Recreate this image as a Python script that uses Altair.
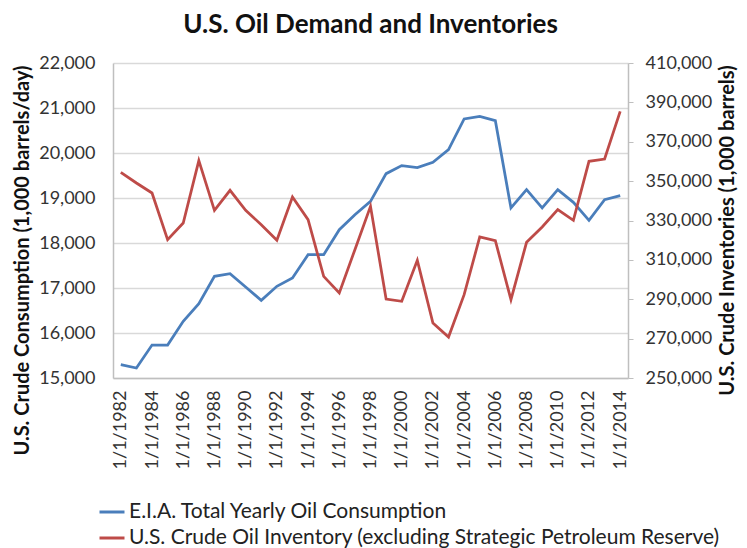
import altair as alt
import pandas as pd

years = list(range(1982, 2015))
date_labels = [f"1/1/{y}" for y in years]
tick_labels = [f"1/1/{y}" for y in years if y % 2 == 0]

consumption = [15296, 15222, 15733, 15733, 16259, 16652, 17259, 17318, 17022, 16726,
               17037, 17222, 17740, 17740, 18296, 18630, 18926, 19541, 19719, 19674,
               19793, 20074, 20756, 20815, 20719, 18778, 19185, 18778, 19185, 18904,
               18504, 18963, 19052]

inventory = [354465, 349048, 343968, 320265, 328730, 360392, 335164, 345323, 335164, 327884,
             319926, 341937, 330423, 301640, 293175, 315185, 337196, 290127, 288942, 309767,
             277937, 270825, 292328, 321619, 319757, 289788, 318910, 326698, 335503, 330085,
             360053, 361238, 385450]

s1 = "E.I.A. Total Yearly Oil Consumption"
s2 = "U.S. Crude Oil Inventory (excluding Strategic Petroleum Reserve)"

df = pd.DataFrame({"date": date_labels, "consumption": consumption, "inventory": inventory})

FONT = "Lato"
color_scale = alt.Scale(domain=[s1, s2], range=["#4A7EBB", "#BE4B48"])
color_enc = alt.Color("series:N", scale=color_scale, sort=[s1, s2],
                      legend=alt.Legend(title=None))

x_enc = alt.X(
    "date:O",
    sort=date_labels,
    scale=alt.Scale(type="point", padding=0.5),
    axis=alt.Axis(
        values=tick_labels, labelAngle=-90, labelFont=FONT, labelFontSize=18,
        labelColor="#333333", ticks=False, domainColor="#bfbfbf", domainWidth=1.5,
        labelPadding=12, title=None, grid=False,
    ),
)

left = alt.Chart(df).transform_calculate(series=f"'{s1}'").mark_line(strokeWidth=2.75).encode(
    x=x_enc,
    y=alt.Y(
        "consumption:Q",
        scale=alt.Scale(domain=[15000, 22000], nice=False, zero=False),
        axis=alt.Axis(
            values=list(range(15000, 22001, 1000)), format=",.0f", grid=True,
            gridColor="#d9d9d9", gridWidth=1.5, domainColor="#bfbfbf", domainWidth=1.5,
            ticks=False, labelPadding=18, labelFont=FONT, labelFontSize=18,
            labelColor="#333333",
            title="U.S. Crude Consumption (1,000 barrels/day)", titleFont=FONT,
            titleFontSize=20, titleFontWeight="bold", titleColor="#111111",
            titlePadding=6, titleY=197,
        ),
    ),
    color=color_enc,
)

right = alt.Chart(df).transform_calculate(series=f"'{s2}'").mark_line(strokeWidth=2.75).encode(
    x=x_enc,
    y=alt.Y(
        "inventory:Q",
        scale=alt.Scale(domain=[250000, 410000], nice=False, zero=False),
        axis=alt.Axis(
            orient="right", values=list(range(250000, 410001, 20000)), format=",.0f",
            grid=False, domainColor="#bfbfbf", domainWidth=1.5, tickColor="#bfbfbf",
            tickSize=5, labelPadding=12, labelFont=FONT, labelFontSize=18,
            labelColor="#333333",
            title="U.S. Crude Inventories (1,000 barrels)", titleFont=FONT,
            titleFontSize=20, titleFontWeight="bold", titleColor="#111111",
            titlePadding=6, titleAngle=-90, titleBaseline="top", titleY=167,
        ),
    ),
    color=color_enc,
)

chart = (
    alt.layer(left, right)
    .resolve_scale(y="independent")
    .properties(
        width=515,
        height=315,
        autosize="none",
        padding={"left": 105, "top": 55, "right": 110, "bottom": 170},
        title=alt.TitleParams(
            "U.S. Oil Demand and Inventories", font=FONT, fontSize=26,
            fontWeight="bold", color="#111111", anchor="middle", offset=16,
        ),
    )
    .configure_view(stroke=None)
    .configure_legend(
        orient="none", legendX=-15, legendY=435, direction="vertical",
        symbolType="stroke", symbolSize=625, symbolStrokeWidth=3,
        labelFont=FONT, labelFontSize=21, labelColor="#222222", labelLimit=0,
        labelOffset=3, rowPadding=2,
    )
)

chart.save("out.html", embed_options={"renderer": "svg", "actions": False})
